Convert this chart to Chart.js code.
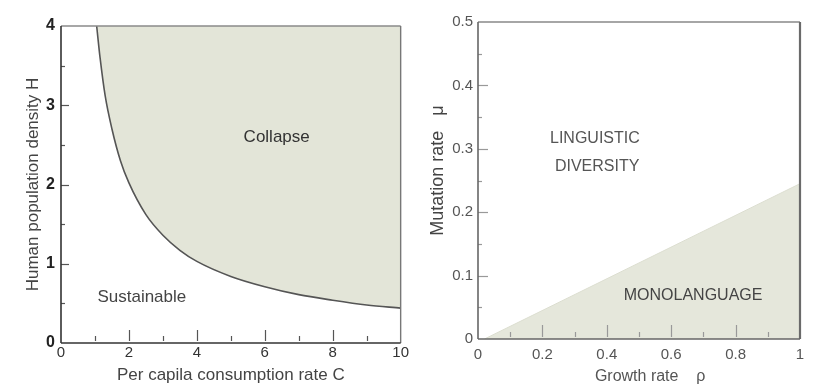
<!DOCTYPE html>
<html>
<head>
<meta charset="utf-8">
<script src="https://cdn.jsdelivr.net/npm/chart.js@4.4.0/dist/chart.umd.min.js"></script>
<style>
  body { margin: 0; background: #fff; }
  #wrap { position: relative; width: 813px; height: 386px; }
  .panel { position: absolute; top: 0; height: 386px; overflow: hidden; }
</style>
</head>
<body>
<div id="wrap">
  <div class="panel" style="left:0;width:410px"><canvas id="leftChart"></canvas></div>
  <div class="panel" style="left:410px;width:403px"><canvas id="rightChart"></canvas></div>
</div>
<script>
// left panel: collapse boundary
const consumption = [1.05, 1.15, 1.3, 1.5, 1.75, 2, 2.5, 3, 3.5, 4, 5, 6, 7, 8, 9, 10];
const density = [4.0, 3.6, 3.12, 2.7, 2.3, 2.02, 1.62, 1.36, 1.17, 1.03, 0.84, 0.71, 0.61, 0.54, 0.48, 0.44];

// right panel: monolanguage boundary
const growth = [0.02, 1];
const mutation = [0, 0.245];

const shade = 'rgb(227,229,216)';
const font = "'Liberation Sans', Arial, sans-serif";

// frame + inward tick marks + region labels
function framePlugin(cfg) {
    return {
        id: 'frame',
        afterDatasetsDraw(chart) {
            const { ctx, chartArea: a, scales: { x, y } } = chart;
            ctx.save();
            // inward ticks
            ctx.strokeStyle = cfg.tickColor;
            ctx.lineWidth = 1.2;
            for (let i = 1; i * cfg.yStep < y.max - 1e-9; i++) {
                const len = (i % 2 === 0) ? cfg.yMajor : cfg.yMinor;
                const py = Math.round(y.getPixelForValue(i * cfg.yStep)) + 0.5;
                ctx.beginPath();
                ctx.moveTo(a.left, py);
                ctx.lineTo(a.left + len, py);
                ctx.stroke();
            }
            for (let i = 1; i * cfg.xStep < x.max - 1e-9; i++) {
                const len = (i % 2 === 0) ? cfg.xMajor : cfg.xMinor;
                const px = Math.round(x.getPixelForValue(i * cfg.xStep)) + 0.5;
                ctx.beginPath();
                ctx.moveTo(px, a.bottom - 2);
                ctx.lineTo(px, a.bottom - 2 - len);
                ctx.stroke();
            }
            // frame
            const side = (x1, y1, x2, y2, color, w) => {
                ctx.strokeStyle = color;
                ctx.lineWidth = w;
                ctx.beginPath();
                ctx.moveTo(x1, y1);
                ctx.lineTo(x2, y2);
                ctx.stroke();
            };
            side(a.left, a.top, a.right, a.top, cfg.topColor, 1.5);
            side(a.right, a.top, a.right, a.bottom, cfg.rightColor, cfg.rightWidth);
            side(a.left, a.top, a.left, a.bottom, cfg.axisColor, 1.6);
            side(a.left, a.bottom, a.right, a.bottom, cfg.axisColor, 1.6);
            // region labels
            ctx.textAlign = 'center';
            ctx.textBaseline = 'middle';
            cfg.labels.forEach(l => {
                ctx.fillStyle = l.color;
                ctx.font = l.size + 'px ' + font;
                ctx.fillText(l.text, x.getPixelForValue(l.x), y.getPixelForValue(l.y));
            });
            ctx.restore();
        }
    };
}

const leftChart = new Chart(document.getElementById('leftChart'), {
    type: 'scatter',
    data: {
        datasets: [{
            data: consumption.map((c, i) => ({ x: c, y: density[i] })),
            showLine: true,
            borderColor: '#555',
            borderWidth: 1.6,
            backgroundColor: shade,
            fill: 'end',
            pointRadius: 0,
            cubicInterpolationMode: 'monotone'
        }]
    },
    options: {
        responsive: true,
        maintainAspectRatio: false,
        animation: false,
        layout: { padding: { left: 0, top: 26, right: 9, bottom: 0 } },
        plugins: { legend: { display: false }, tooltip: { enabled: false } },
        scales: {
            x: {
                type: 'linear', min: 0, max: 10,
                grid: { display: false, drawTicks: false },
                border: { display: false },
                ticks: { stepSize: 2, padding: 1, color: '#333', font: { family: font, size: 15 } },
                title: { display: true, text: 'Per capila consumption rate C', color: '#444', padding: { top: 0, bottom: 0 }, font: { family: font, size: 17 } },
                afterFit: s => { s.height = 43; }
            },
            y: {
                type: 'linear', min: 0, max: 4,
                grid: { display: false, drawTicks: false },
                border: { display: false },
                ticks: { stepSize: 1, padding: 6, color: '#222', font: { family: font, size: 16, weight: 'bold' } },
                title: { display: true, text: 'Human population density H', color: '#444', padding: { top: 23, bottom: 0 }, font: { family: font, size: 17 } },
                afterFit: s => { s.width = 61; }
            }
        }
    },
    plugins: [framePlugin({
        yStep: 0.5, yMajor: 8, yMinor: 4,
        xStep: 1, xMajor: 11, xMinor: 5,
        tickColor: '#555', axisColor: '#333', topColor: '#8a8a8a', rightColor: '#777', rightWidth: 1.4,
        labels: [
            { text: 'Collapse', x: 6.35, y: 2.6, size: 17, color: '#333' },
            { text: 'Sustainable', x: 2.38, y: 0.58, size: 17, color: '#444' }
        ]
    })]
});

const rightChart = new Chart(document.getElementById('rightChart'), {
    type: 'scatter',
    data: {
        datasets: [{
            data: growth.map((g, i) => ({ x: g, y: mutation[i] })),
            showLine: true,
            borderColor: 'rgb(220,222,208)',
            borderWidth: 1,
            backgroundColor: 'rgb(229,231,219)',
            fill: 'origin',
            pointRadius: 0
        }]
    },
    options: {
        responsive: true,
        maintainAspectRatio: false,
        animation: false,
        layout: { padding: { left: 0, top: 22, right: 13, bottom: 0 } },
        plugins: { legend: { display: false }, tooltip: { enabled: false } },
        scales: {
            x: {
                type: 'linear', min: 0, max: 1,
                grid: { display: false, drawTicks: false },
                border: { display: false },
                ticks: {
                    stepSize: 0.2, padding: 7, color: '#555', font: { family: font, size: 15 },
                    callback: v => String(Math.round(v * 10) / 10)
                },
                title: { display: true, text: '     Growth rate    ρ', color: '#555', padding: { top: 0, bottom: 0 }, font: { family: font, size: 16 } },
                afterFit: s => { s.height = 47; }
            },
            y: {
                type: 'linear', min: 0, max: 0.5,
                grid: { display: false, drawTicks: false },
                border: { display: false },
                ticks: {
                    stepSize: 0.1, padding: 5, color: '#555', font: { family: font, size: 15 },
                    callback: v => String(Math.round(v * 10) / 10)
                },
                title: { display: true, text: '    Mutation rate   μ', color: '#444', padding: { top: 17, bottom: 0 }, font: { family: font, size: 18 } },
                afterFit: s => { s.width = 68; }
            }
        }
    },
    plugins: [framePlugin({
        yStep: 0.05, yMajor: 10, yMinor: 4,
        xStep: 0.1, xMajor: 12, xMinor: 5,
        tickColor: '#999', axisColor: '#666', topColor: '#888', rightColor: '#6a6a6a', rightWidth: 2.2,
        labels: [
            { text: 'LINGUISTIC', x: 0.363, y: 0.316, size: 16, color: '#555' },
            { text: 'DIVERSITY', x: 0.37, y: 0.272, size: 16, color: '#555' },
            { text: 'MONOLANGUAGE', x: 0.668, y: 0.069, size: 16, color: '#444' }
        ]
    })]
});
</script>
</body>
</html>
